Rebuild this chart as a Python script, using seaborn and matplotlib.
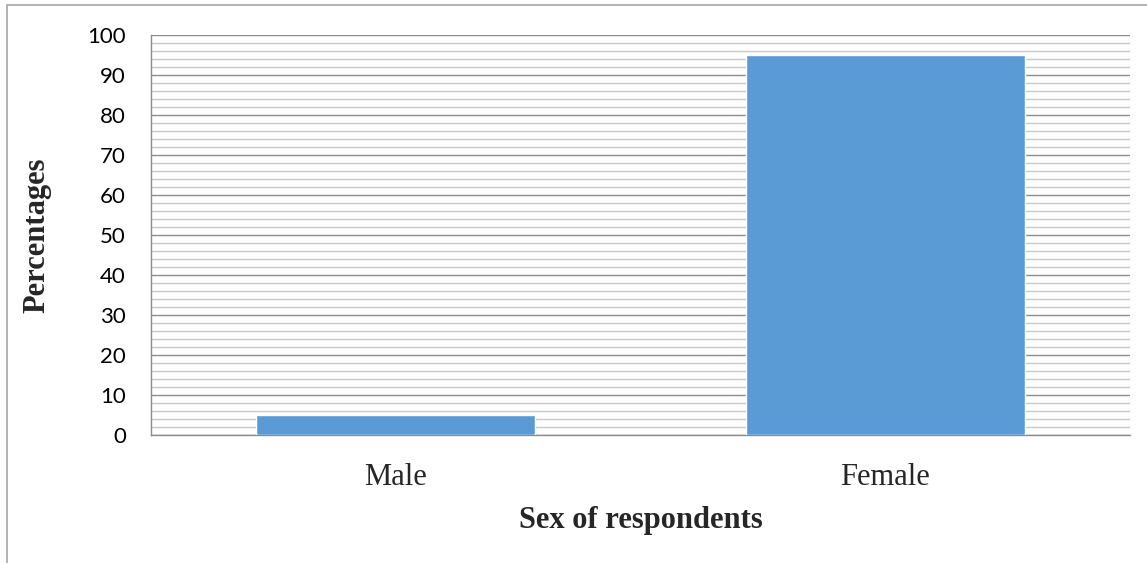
import numpy as np
import pandas as pd
import matplotlib
matplotlib.use('Agg')
import matplotlib.pyplot as plt
import seaborn as sns
from matplotlib.patches import Rectangle

categories = ['Male', 'Female']
percentages = [5, 95]

sns.set_style('white')
plt.rcParams['font.family'] = ['Lato', 'DejaVu Sans']

df = pd.DataFrame({'sex': categories, 'pct': percentages})

fig = plt.figure(figsize=(11.47, 5.63), dpi=100)
ax = fig.add_axes([0.1316, 0.2274, 0.8536, 0.7104])

sns.barplot(data=df, x='sex', y='pct', color='#5b9bd5', width=0.57,
            saturation=1, ax=ax, zorder=3)

ax.set_ylim(0, 100)
ax.set_yticks(np.arange(0, 101, 10))
ax.set_yticks(np.arange(0, 101, 2), minor=True)
ax.grid(which='major', axis='y', color='#8c8c8c', lw=1.0, zorder=0)
ax.grid(which='minor', axis='y', color='#c8c8c8', lw=1.0, zorder=0)
ax.set_axisbelow(True)

for s in ['top', 'right']:
    ax.spines[s].set_visible(False)
for s in ['left', 'bottom']:
    ax.spines[s].set_color('#8c8c8c')
    ax.spines[s].set_linewidth(1.0)

ax.tick_params(axis='y', which='major', direction='out', length=8,
               color='#8c8c8c', labelsize=16, pad=10, labelcolor='black')
ax.tick_params(axis='y', which='minor', length=0)
ax.tick_params(axis='x', length=0, pad=20)
for lab in ax.get_xticklabels():
    lab.set_fontfamily('Liberation Serif')
    lab.set_fontsize(22)

ax.set_xlabel('Sex of respondents', fontfamily='Liberation Serif',
              fontsize=22, fontweight='bold')
ax.set_ylabel('Percentages', fontfamily='Liberation Serif',
              fontsize=22, fontweight='bold')
ax.xaxis.set_label_coords(0.5005, -0.178)
ax.yaxis.set_label_coords(-0.102, 0.5)

fig.patches.append(Rectangle((7 / 1147, -0.1), 1.2, 1 - 5 / 563 + 0.1,
                             transform=fig.transFigure, fill=False,
                             edgecolor='#a6a6a6', lw=1.2))

fig.savefig('out.png', dpi=100)
